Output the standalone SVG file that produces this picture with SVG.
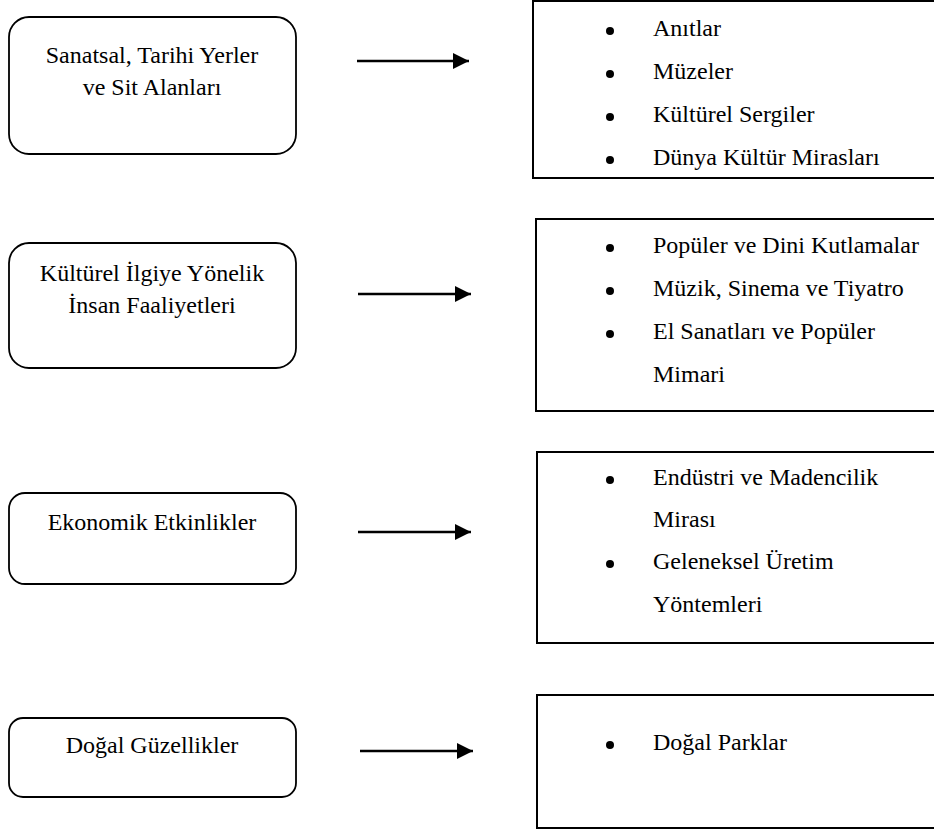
<svg xmlns="http://www.w3.org/2000/svg" width="934" height="830" viewBox="0 0 934 830">
<defs>
<marker id="ah" viewBox="0 0 16 16" refX="16" refY="8" markerWidth="16" markerHeight="16" markerUnits="userSpaceOnUse" orient="auto">
<path d="M0,0 L16,8 L0,16 Z" fill="#000"/>
</marker>
</defs>
<style>
.src{fill:#fff;stroke:#000;stroke-width:1.8}
.dst{fill:#fff;stroke:#000;stroke-width:2}
.t{font-family:"Liberation Serif","Times New Roman",serif;font-size:24px;fill:#000}
.c{text-anchor:middle}
.b{fill:#000}
.arr{stroke:#000;stroke-width:2.5;fill:none;marker-end:url(#ah)}
</style>
<rect width="934" height="830" fill="#fff"/>
<g id="n1">
<rect class="src" x="9" y="17" width="287" height="137" rx="20"/>
<text class="t c" x="152" y="63">Sanatsal, Tarihi Yerler</text>
<text class="t c" x="152" y="95">ve Sit Alanları</text>
</g>
<g id="n2">
<rect class="src" x="9" y="243" width="287" height="125" rx="20"/>
<text class="t c" x="152" y="281">Kültürel İlgiye Yönelik</text>
<text class="t c" x="152" y="313">İnsan Faaliyetleri</text>
</g>
<g id="n3">
<rect class="src" x="9" y="493" width="287" height="91" rx="16"/>
<text class="t c" x="152" y="530">Ekonomik Etkinlikler</text>
</g>
<g id="n4">
<rect class="src" x="9" y="718" width="287" height="79" rx="14"/>
<text class="t c" x="152" y="753">Doğal Güzellikler</text>
</g>
<g id="r1">
<rect class="dst" x="533" y="1" width="420" height="177"/>
<circle class="b" cx="610" cy="31" r="4"/>
<text class="t" x="653" y="36">Anıtlar</text>
<circle class="b" cx="610" cy="74" r="4"/>
<text class="t" x="653" y="79">Müzeler</text>
<circle class="b" cx="610" cy="117" r="4"/>
<text class="t" x="653" y="122">Kültürel Sergiler</text>
<circle class="b" cx="610" cy="160" r="4"/>
<text class="t" x="653" y="165">Dünya Kültür Mirasları</text>
</g>
<g id="r2">
<rect class="dst" x="536" y="219" width="420" height="192"/>
<circle class="b" cx="610" cy="248" r="4"/>
<text class="t" x="653" y="253">Popüler ve Dini Kutlamalar</text>
<circle class="b" cx="610" cy="291" r="4"/>
<text class="t" x="653" y="296">Müzik, Sinema ve Tiyatro</text>
<circle class="b" cx="610" cy="334" r="4"/>
<text class="t" x="653" y="339">El Sanatları ve Popüler</text>
<text class="t" x="653" y="382">Mimari</text>
</g>
<g id="r3">
<rect class="dst" x="537" y="452" width="420" height="191"/>
<circle class="b" cx="610" cy="480" r="4"/>
<text class="t" x="653" y="485">Endüstri ve Madencilik</text>
<text class="t" x="653" y="527">Mirası</text>
<circle class="b" cx="610" cy="564" r="4"/>
<text class="t" x="653" y="569">Geleneksel Üretim</text>
<text class="t" x="653" y="612">Yöntemleri</text>
</g>
<g id="r4">
<rect class="dst" x="537" y="695" width="420" height="133"/>
<circle class="b" cx="610" cy="745" r="4"/>
<text class="t" x="653" y="750">Doğal Parklar</text>
</g>
<g id="connectors">
<line class="arr" x1="357" y1="61" x2="469" y2="61"/>
<line class="arr" x1="358" y1="294" x2="471" y2="294"/>
<line class="arr" x1="358" y1="532" x2="471" y2="532"/>
<line class="arr" x1="360" y1="751" x2="473" y2="751"/>
</g>
</svg>
